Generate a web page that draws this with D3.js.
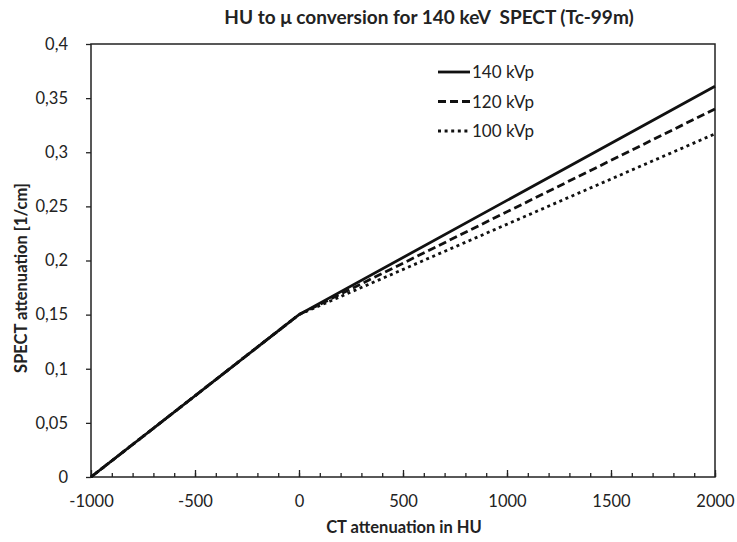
<!DOCTYPE html>
<html>
<head>
<meta charset="utf-8">
<script src="https://cdn.jsdelivr.net/npm/d3@7"></script>
<style>
  html, body { margin: 0; padding: 0; background: #fff; }
  svg { display: block; }
  text { font-family: Lato, "Open Sans", sans-serif; fill: #222; }
</style>
</head>
<body>
<svg id="chart" width="737" height="542"></svg>
<script>
// HU values where each curve is defined (bilinear conversion)
const huPoints = [-1000, 0, 2000];
const mu140 = [0, 0.150, 0.361];
const mu120 = [0, 0.150, 0.340];
const mu100 = [0, 0.150, 0.317];

const seriesNames = ["140 kVp", "120 kVp", "100 kVp"];
const seriesValues = [mu140, mu120, mu100];
const seriesDash = [null, "8,4", "3,3.6"];

const xTicks = [-1000, -500, 0, 500, 1000, 1500, 2000];
const xTickLabels = ["-1000", "-500", "0", "500", "1000", "1500", "2000"];
const xMinorTicks = d3.range(-1000, 2001, 100);
const yTicks = [0, 0.05, 0.1, 0.15, 0.2, 0.25, 0.3, 0.35, 0.4];
const yTickLabels = ["0", "0,05", "0,1", "0,15", "0,2", "0,25", "0,3", "0,35", "0,4"];

const svg = d3.select("#chart");
const plotLeft = 91, plotRight = 715, plotTop = 44, plotBottom = 477;

const x = d3.scaleLinear().domain([-1000, 2000]).range([plotLeft, plotRight]);
const y = d3.scaleLinear().domain([0, 0.4]).range([plotBottom, plotTop]);

// Title
svg.append("text")
  .attr("x", 429).attr("y", 24)
  .attr("text-anchor", "middle")
  .attr("font-size", 19).attr("font-weight", "bold")
  .text("HU to \u03bc conversion for 140 keV\u00a0\u00a0SPECT (Tc-99m)");

// Plot frame
svg.append("rect")
  .attr("x", plotLeft).attr("y", plotTop)
  .attr("width", plotRight - plotLeft).attr("height", plotBottom - plotTop)
  .attr("fill", "none").attr("stroke", "#222").attr("stroke-width", 1.5);

// Y axis: ticks outside, comma decimal labels
const yAxis = d3.axisLeft(y).tickValues(yTicks)
  .tickFormat((d, i) => yTickLabels[i]).tickSize(5).tickPadding(18);
const gy = svg.append("g").attr("transform", `translate(${plotLeft},0)`).call(yAxis);
gy.select(".domain").remove();
gy.selectAll("line").attr("stroke", "#222").attr("stroke-width", 1.3);
gy.selectAll("text").attr("font-size", 16.5).style("font-family", "Lato, sans-serif").attr("fill", "#222");

// X axis: minor ticks every 100, major every 500, pointing inward
const gxMinor = svg.append("g").attr("transform", `translate(0,${plotBottom})`)
  .call(d3.axisTop(x).tickValues(xMinorTicks).tickSize(4).tickFormat(""));
gxMinor.select(".domain").remove();
gxMinor.selectAll("line").attr("stroke", "#222").attr("stroke-width", 1.3);

const gxMajor = svg.append("g").attr("transform", `translate(0,${plotBottom})`)
  .call(d3.axisTop(x).tickValues(xTicks).tickSize(7).tickFormat(""));
gxMajor.select(".domain").remove();
gxMajor.selectAll("line").attr("stroke", "#222").attr("stroke-width", 1.3);

const gxLabels = svg.append("g").attr("transform", `translate(0,${plotBottom})`)
  .call(d3.axisBottom(x).tickValues(xTicks).tickSize(0).tickPadding(18)
    .tickFormat((d, i) => xTickLabels[i]));
gxLabels.select(".domain").remove();
gxLabels.selectAll("text").attr("font-size", 16.5).style("font-family", "Lato, sans-serif").attr("fill", "#222");

// Axis titles
svg.append("text")
  .attr("x", 404).attr("y", 533)
  .attr("text-anchor", "middle")
  .attr("font-size", 16.5).attr("font-weight", "bold")
  .text("CT attenuation in HU");

svg.append("text")
  .attr("transform", "translate(27,278) rotate(-90)")
  .attr("text-anchor", "middle")
  .attr("font-size", 16.5).attr("font-weight", "bold")
  .text("SPECT attenuation [1/cm]");

// Curves
const line = d3.line().x(d => x(d[0])).y(d => y(d[1]));
seriesValues.forEach((vals, i) => {
  svg.append("path")
    .datum(huPoints.map((h, j) => [h, vals[j]]))
    .attr("d", line)
    .attr("fill", "none")
    .attr("stroke", "#111")
    .attr("stroke-width", 2.8)
    .attr("stroke-dasharray", seriesDash[i]);
});

// Legend
const legend = svg.append("g").attr("transform", "translate(438,72)");
seriesNames.forEach((name, i) => {
  const g = legend.append("g").attr("transform", `translate(0,${i * 29.5})`);
  g.append("line")
    .attr("x1", 0).attr("x2", 32).attr("y1", 0).attr("y2", 0)
    .attr("stroke", "#111").attr("stroke-width", 2.8)
    .attr("stroke-dasharray", seriesDash[i]);
  g.append("text")
    .attr("x", 34).attr("y", 6)
    .attr("font-size", 17)
    .text(name);
});
</script>
</body>
</html>
